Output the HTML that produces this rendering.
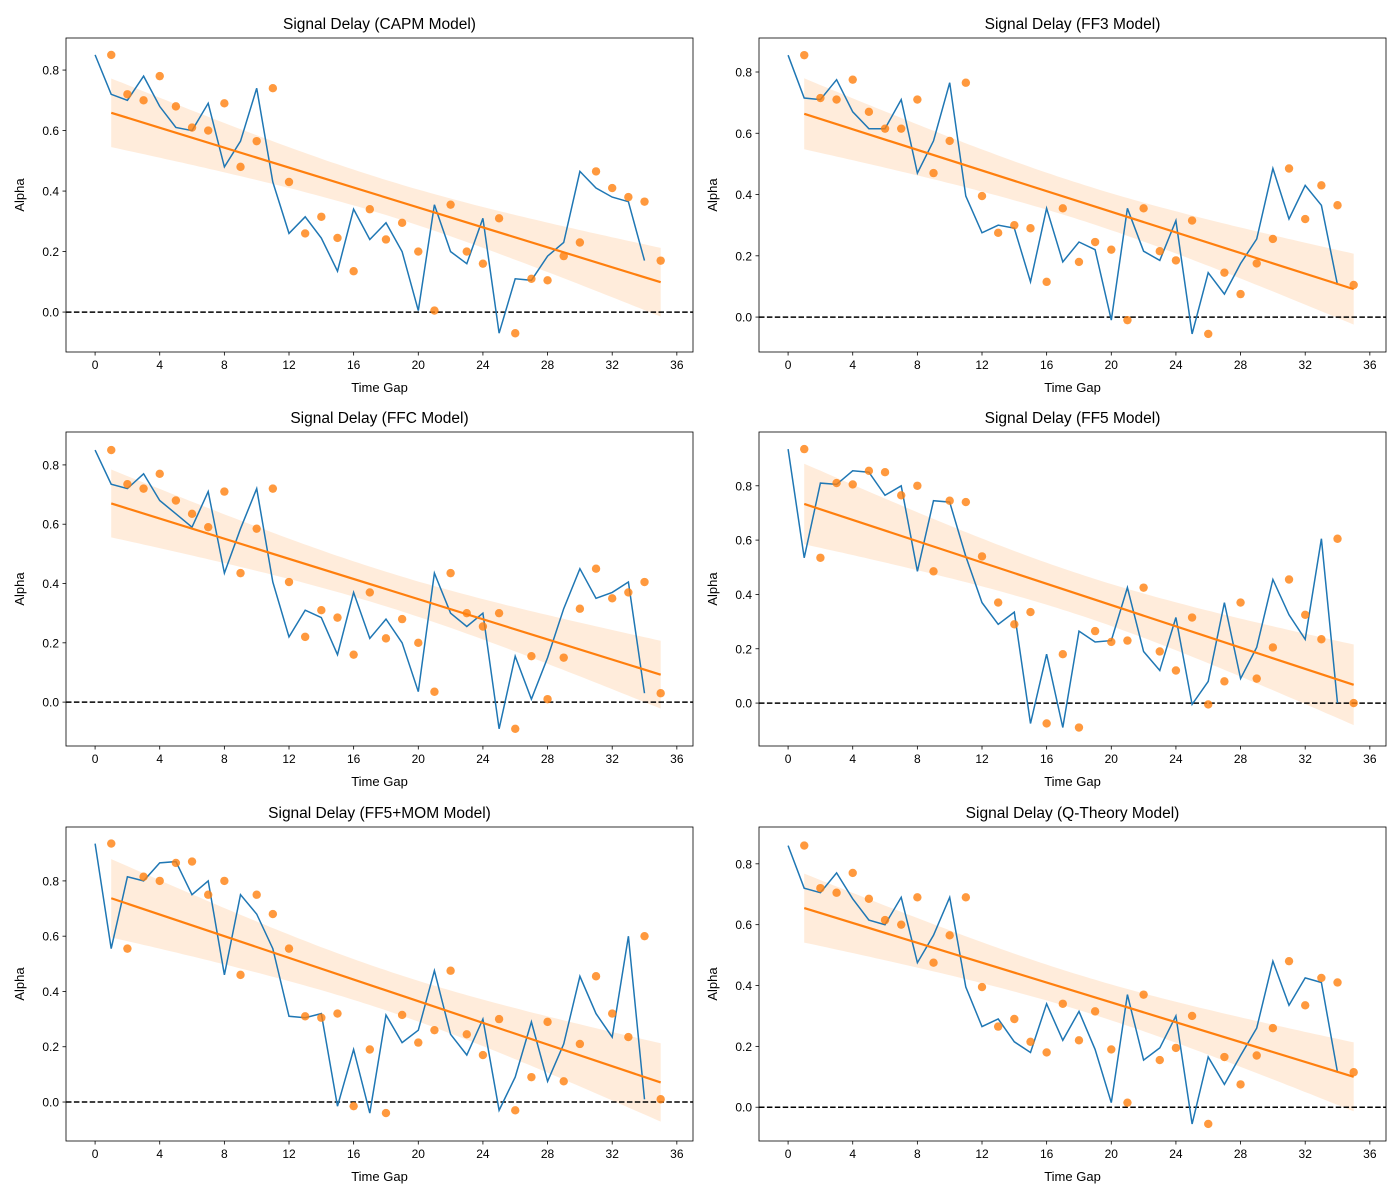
<!DOCTYPE html>
<html><head><meta charset="utf-8">
<style>
html,body{margin:0;padding:0;background:#fff;}
svg{display:block;font-family:"Liberation Sans","DejaVu Sans",sans-serif;}
</style></head>
<body>
<svg id="fig" width="1400" height="1200" viewBox="0 0 1400 1200" xmlns="http://www.w3.org/2000/svg"></svg>
<script>
const panelTitles = ["Signal Delay (CAPM Model)","Signal Delay (FF3 Model)","Signal Delay (FFC Model)","Signal Delay (FF5 Model)","Signal Delay (FF5+MOM Model)","Signal Delay (Q-Theory Model)"];
const xTicks = [0,4,8,12,16,20,24,28,32,36];
const yTicks = [0.0,0.2,0.4,0.6,0.8];
const capm = [0.85,0.72,0.70,0.78,0.68,0.61,0.60,0.69,0.48,0.565,0.74,0.43,0.26,0.315,0.245,0.135,0.34,0.24,0.295,0.20,0.005,0.355,0.20,0.16,0.31,-0.07,0.11,0.105,0.185,0.23,0.465,0.41,0.38,0.365,0.17];
const ff3 = [0.855,0.715,0.71,0.775,0.67,0.615,0.615,0.71,0.47,0.575,0.765,0.395,0.275,0.30,0.29,0.115,0.355,0.18,0.245,0.22,-0.01,0.355,0.215,0.185,0.315,-0.055,0.145,0.075,0.175,0.255,0.485,0.32,0.43,0.365,0.105];
const ffc = [0.85,0.735,0.72,0.77,0.68,0.635,0.59,0.71,0.435,0.585,0.72,0.405,0.22,0.31,0.285,0.16,0.37,0.215,0.28,0.20,0.035,0.435,0.30,0.255,0.30,-0.09,0.155,0.01,0.15,0.315,0.45,0.35,0.37,0.405,0.03];
const ff5 = [0.935,0.535,0.81,0.805,0.855,0.85,0.765,0.80,0.485,0.745,0.74,0.54,0.37,0.29,0.335,-0.075,0.18,-0.09,0.265,0.225,0.23,0.425,0.19,0.12,0.315,-0.005,0.08,0.37,0.09,0.205,0.455,0.325,0.235,0.605,0.0];
const ff5mom = [0.935,0.555,0.815,0.80,0.865,0.87,0.75,0.80,0.46,0.75,0.68,0.555,0.31,0.305,0.32,-0.015,0.19,-0.04,0.315,0.215,0.26,0.475,0.245,0.17,0.30,-0.03,0.09,0.29,0.075,0.21,0.455,0.32,0.235,0.60,0.01];
const qtheory = [0.86,0.72,0.705,0.77,0.685,0.615,0.60,0.69,0.475,0.565,0.69,0.395,0.265,0.29,0.215,0.18,0.34,0.22,0.315,0.19,0.015,0.37,0.155,0.195,0.30,-0.055,0.165,0.075,0.17,0.26,0.48,0.335,0.425,0.41,0.115];
const panelData = [capm,ff3,ffc,ff5,ff5mom,qtheory];
const yLims = [[-0.132,0.906],[-0.114,0.911],[-0.148,0.911],[-0.158,0.998],[-0.141,0.995],[-0.111,0.921]];
const xLim = [-1.8,37.0];

const NS="http://www.w3.org/2000/svg";
const svg=document.getElementById('fig');
function mk(tag,attrs,parent){const e=document.createElementNS(NS,tag);for(const k in attrs)e.setAttribute(k,attrs[k]);(parent||svg).appendChild(e);return e;}
const lefts=[66,759], tops=[38,432,827], W=627, H=314;

panelData.forEach((vals,pi)=>{
  const L=lefts[pi%2], T=tops[Math.floor(pi/2)];
  const g=mk('g',{});
  
  
  const yl=yLims[pi];
  const sx=x=>L+(x-xLim[0])/(xLim[1]-xLim[0])*W;
  const sy=y=>T+H-(y-yl[0])/(yl[1]-yl[0])*H;
  const clip=mk('clipPath',{id:'c'+pi},g);mk('rect',{x:L,y:T,width:W,height:H},clip);
  const pg=mk('g',{'clip-path':'url(#c'+pi+')'},g);
  const n=vals.length, xs=vals.map((v,i)=>i+1);
  const xm=xs.reduce((a,b)=>a+b)/n, ym=vals.reduce((a,b)=>a+b)/n;
  let sxx=0,sxy=0;xs.forEach((x,i)=>{sxx+=(x-xm)**2;sxy+=(x-xm)*(vals[i]-ym);});
  const b=sxy/sxx,a=ym-b*xm;
  let sse=0;xs.forEach((x,i)=>{sse+=(vals[i]-a-b*x)**2;});
  const s=Math.sqrt(sse/(n-2)), tq=2.03;
  let up=[],dn=[];
  for(let k=0;k<=100;k++){const x=1+(n-1)*k/100;const h=tq*s*Math.sqrt(1/n+(x-xm)**2/sxx);const yh=a+b*x;up.push(sx(x).toFixed(1)+','+sy(yh+h).toFixed(1));dn.unshift(sx(x).toFixed(1)+','+sy(yh-h).toFixed(1));}
  const band=mk('polygon',{points:up.concat(dn).join(' '),fill:'#ff7f0e','fill-opacity':0.15,stroke:'none'},pg);
  
  
  const zl=mk('line',{x1:L,x2:L+W,y1:sy(0),y2:sy(0),stroke:'#000','stroke-width':1.5,'stroke-dasharray':'5.5,2.4'},pg);
  
  
  const lp=vals.map((v,i)=>sx(i).toFixed(1)+','+sy(v).toFixed(1)).join(' ');
  const ln=mk('polyline',{points:lp,fill:'none',stroke:'#1f77b4','stroke-width':1.5},pg);
  
  
  vals.forEach((v,i)=>{const c=mk('circle',{cx:sx(i+1),cy:sy(v),r:4.2,fill:'#ff7f0e','fill-opacity':0.8},pg);
    
    });
  const rl=mk('line',{x1:sx(1),y1:sy(a+b*1),x2:sx(n),y2:sy(a+b*n),stroke:'#ff7f0e','stroke-width':2.2},pg);
  
  
  mk('rect',{x:L,y:T,width:W,height:H,fill:'none',stroke:'#000','stroke-width':0.8},g);
  xTicks.forEach(t=>{const X=sx(t);mk('line',{x1:X,x2:X,y1:T+H,y2:T+H+3.5,stroke:'#000','stroke-width':0.8},g);
    const tx=mk('text',{x:X,y:T+H+17,'text-anchor':'middle','font-size':12,fill:'#000'},g);tx.textContent=t;
    
    });
  yTicks.forEach(t=>{const Y=sy(t);mk('line',{x1:L-3.5,x2:L,y1:Y,y2:Y,stroke:'#000','stroke-width':0.8},g);
    const tx=mk('text',{x:L-7,y:Y+4.5,'text-anchor':'end','font-size':12,fill:'#000'},g);tx.textContent=t.toFixed(1);
    
    });
  const ti=mk('text',{x:L+W/2,y:T-9,'text-anchor':'middle','font-size':15.5,fill:'#000'},g);ti.textContent=panelTitles[pi];
  
  
  const xl=mk('text',{x:L+W/2,y:T+H+40,'text-anchor':'middle','font-size':13,fill:'#000'},g);xl.textContent='Time Gap';
  
  
  const yx=L-42,yy=T+H/2;
  const ylb=mk('text',{x:yx,y:yy,'text-anchor':'middle','font-size':13,fill:'#000',transform:'rotate(-90 '+yx+' '+yy+')'},g);ylb.textContent='Alpha';
  
  
});
</script>
</body></html>
